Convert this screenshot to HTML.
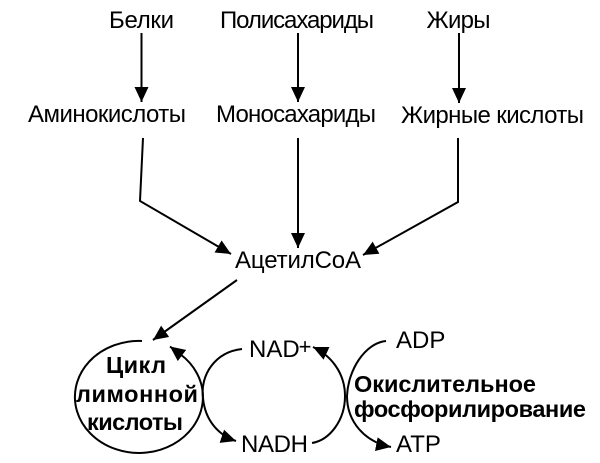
<!DOCTYPE html>
<html>
<head>
<meta charset="utf-8">
<style>
  html, body { margin: 0; padding: 0; background: #ffffff; }
  svg { display: block; }
  text { font-family: "Liberation Sans", "DejaVu Sans", sans-serif; fill: #000; }
  .r { font-size: 24px; }
  .b { font-size: 23.5px; font-weight: bold; }
  .ln { fill: none; stroke: #000; stroke-width: 2; }
</style>
</head>
<body>
<svg width="600" height="463" viewBox="0 0 600 463" xmlns="http://www.w3.org/2000/svg">
  <defs>
    <marker id="a" markerUnits="userSpaceOnUse" markerWidth="16" markerHeight="14" refX="15" refY="7" orient="auto">
      <path d="M0,0 L15,7 L0,14 z" fill="#000"/>
    </marker>
  </defs>

  <!-- Top row -->
  <text class="r" x="141.5" y="28" text-anchor="middle" textLength="65">Белки</text>
  <text class="r" x="297" y="28" text-anchor="middle" textLength="154">Полисахариды</text>
  <text class="r" x="458.5" y="28" text-anchor="middle" textLength="64">Жиры</text>

  <!-- Top arrows -->
  <path class="ln" d="M141.5,33 V102" marker-end="url(#a)"/>
  <path class="ln" d="M298,33 V102" marker-end="url(#a)"/>
  <path class="ln" d="M459,33 V103" marker-end="url(#a)"/>

  <!-- Second row -->
  <text class="r" x="107" y="122" text-anchor="middle" textLength="158">Аминокислоты</text>
  <text class="r" x="296" y="122" text-anchor="middle" textLength="160">Моносахариды</text>
  <text class="r" x="492.5" y="123" text-anchor="middle" textLength="183">Жирные кислоты</text>

  <!-- Converging arrows -->
  <path class="ln" d="M143,138 L140,201 L231,254" marker-end="url(#a)"/>
  <path class="ln" d="M298,138 V248" marker-end="url(#a)"/>
  <path class="ln" d="M458,138 V202 L363,255" marker-end="url(#a)"/>

  <text class="r" x="298" y="268" text-anchor="middle" textLength="126">АцетилСоА</text>

  <!-- AcetylCoA to cycle -->
  <path class="ln" d="M237,280 L153,340" marker-end="url(#a)"/>

  <!-- Cycle ellipse -->
  <path class="ln" d="M142,341 A64,56 0 1 0 180,354 L170,346.5" marker-end="url(#a)"/>
  <text class="b" x="136" y="373" text-anchor="middle" textLength="60">Цикл</text>
  <text class="b" x="137" y="402" text-anchor="middle" textLength="122">лимонной</text>
  <text class="b" x="135" y="430" text-anchor="middle" textLength="96">кислоты</text>

  <!-- NAD+ / NADH -->
  <text class="r" x="249" y="357">NAD<tspan font-size="22" dy="-3" dx="-1">+</tspan></text>
  <text class="r" x="241" y="452" textLength="67">NADH</text>

  <path class="ln" d="M242,349 C215,352 200,375 203,398 C205,420 218,435 236,441" marker-end="url(#a)"/>
  <path class="ln" d="M312,443 C330,440 345,420 345,396 C345,372 330,355 313,347" marker-end="url(#a)"/>

  <!-- ADP / ATP -->
  <text class="r" x="396" y="348">ADP</text>
  <text class="r" x="396" y="452">ATP</text>
  <path class="ln" d="M386,341 C365,343 348,370 347,396 C347,422 365,442 391,447" marker-end="url(#a)"/>

  <!-- Oxidative phosphorylation -->
  <text class="b" x="354" y="392" textLength="182">Окислительное</text>
  <text class="b" x="354" y="417" textLength="232">фосфорилирование</text>
</svg>
</body>
</html>
